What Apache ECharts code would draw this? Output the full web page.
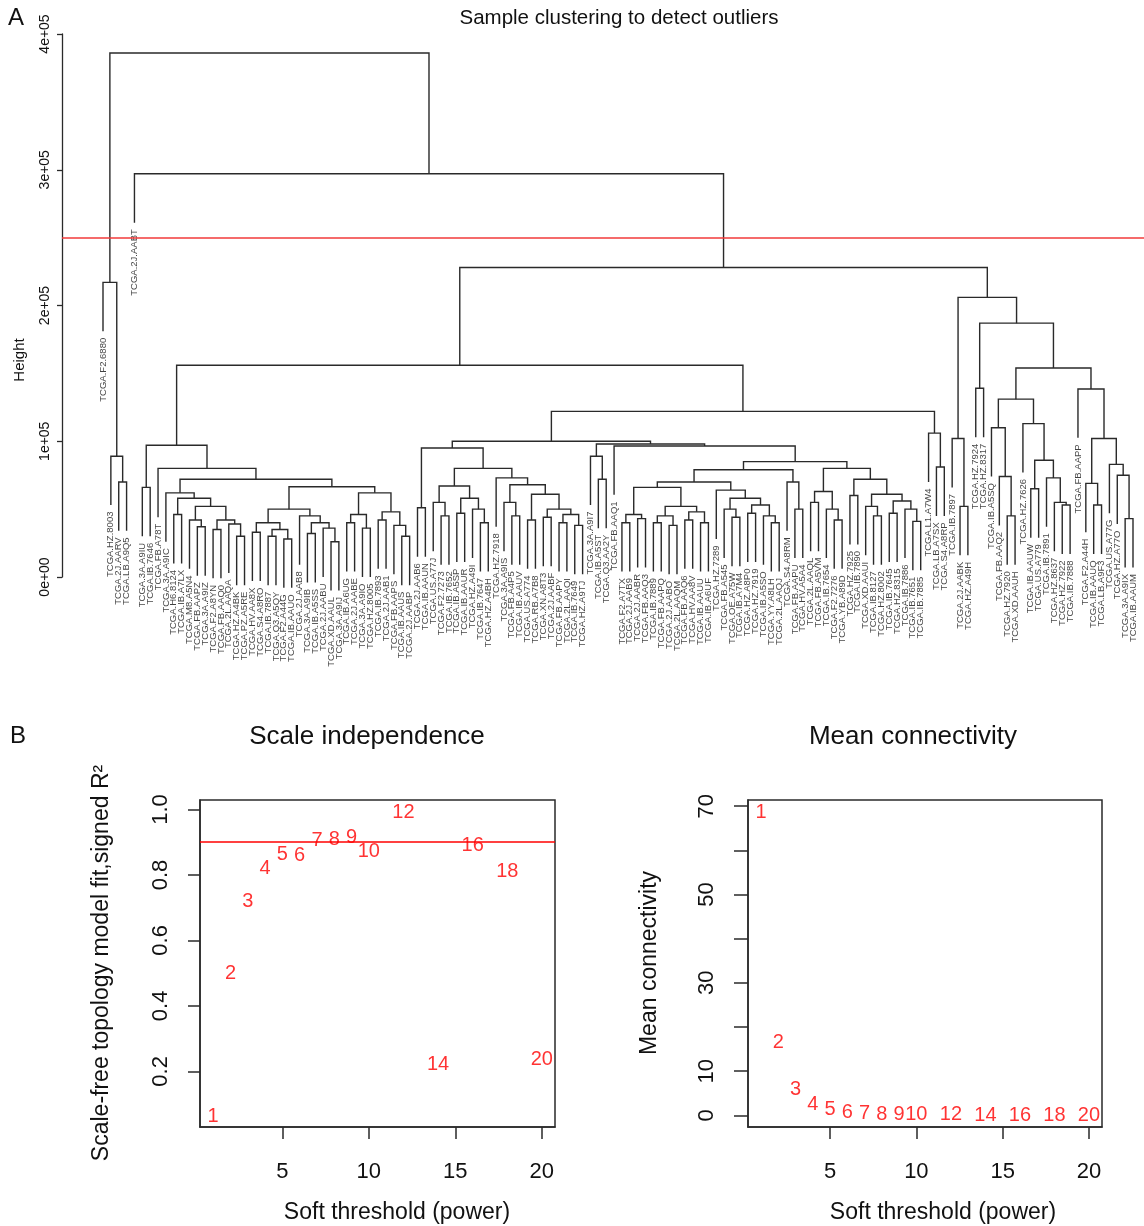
<!DOCTYPE html>
<html>
<head>
<meta charset="utf-8">
<script src="https://cdn.jsdelivr.net/npm/echarts@6.0.0/dist/echarts.min.js"></script>
<style>
  html, body { margin: 0; padding: 0; background: #fff; }
  #main { width: 1144px; height: 1226px; }
</style>
</head>
<body>
<div id="main"></div>
<script>
// ---- panel A: sample names in dendrogram order ----
var sampleNames = [
    'TCGA.F2.6880', 'TCGA.HZ.8003', 'TCGA.2J.AARV', 'TCGA.LB.A9Q5', 'TCGA.2J.AABT',
    'TCGA.3A.A9IU', 'TCGA.IB.7646', 'TCGA.FB.A78T', 'TCGA.3A.A9IC', 'TCGA.H6.8124',
    'TCGA.IB.A7LX', 'TCGA.M8.A5N4', 'TCGA.FB.AAPZ', 'TCGA.3A.A9IZ', 'TCGA.F2.A8YN',
    'TCGA.FB.AAQ0', 'TCGA.2L.AAQA', 'TCGA.HZ.A4BK', 'TCGA.PZ.A5RE', 'TCGA.HV.AA8X',
    'TCGA.S4.A8RO', 'TCGA.IB.7887', 'TCGA.Q3.A5QY', 'TCGA.F2.A44G', 'TCGA.IB.AAUO',
    'TCGA.2J.AAB8', 'TCGA.3A.A9IB', 'TCGA.IB.A5SS', 'TCGA.2J.AABU', 'TCGA.XD.AAUL',
    'TCGA.3A.A9IJ', 'TCGA.IB.A6UG', 'TCGA.2J.AABE', 'TCGA.3A.A9IO', 'TCGA.HZ.8005',
    'TCGA.IB.7893', 'TCGA.2J.AAB1', 'TCGA.FB.AAPS', 'TCGA.IB.AAUS', 'TCGA.2J.AABP',
    'TCGA.2J.AAB6', 'TCGA.IB.AAUN', 'TCGA.US.A77J', 'TCGA.F2.7273', 'TCGA.IB.7652',
    'TCGA.IB.A5SP', 'TCGA.IB.AAUR', 'TCGA.HZ.A49I', 'TCGA.IB.7647', 'TCGA.HZ.A4BH',
    'TCGA.HZ.7918', 'TCGA.3A.A9IS', 'TCGA.FB.A4P5', 'TCGA.IB.AAUV', 'TCGA.US.A774',
    'TCGA.RB.A7B8', 'TCGA.XN.A8T3', 'TCGA.2J.AABF', 'TCGA.FB.AAPY', 'TCGA.2L.AAQI',
    'TCGA.IB.7649', 'TCGA.HZ.A9TJ',
    'TCGA.3A.A9I7', 'TCGA.IB.A5ST', 'TCGA.Q3.AA2Y', 'TCGA.FB.AAQ1',
    'TCGA.F2.A7TX', 'TCGA.2J.AAB9', 'TCGA.2J.AABR', 'TCGA.FB.AAQ3', 'TCGA.IB.7889',
    'TCGA.FB.AAPQ', 'TCGA.2J.AABO', 'TCGA.2L.AAQM', 'TCGA.FB.AAQ6', 'TCGA.HV.AA8V',
    'TCGA.IB.AAUU', 'TCGA.IB.A6UF', 'TCGA.HZ.7289', 'TCGA.FB.A545', 'TCGA.OE.A75W',
    'TCGA.IB.A7M4', 'TCGA.HZ.A8P0', 'TCGA.HZ.7919', 'TCGA.IB.A5SO', 'TCGA.YY.A8LH',
    'TCGA.2L.AAQJ', 'TCGA.S4.A8RM', 'TCGA.FB.AAPU', 'TCGA.HV.A5A4',
    'TCGA.2L.AAQL', 'TCGA.FB.A5VM', 'TCGA.IB.7654', 'TCGA.F2.7276', 'TCGA.YB.A89D',
    'TCGA.HZ.7925', 'TCGA.IB.7890', 'TCGA.XD.AAUI', 'TCGA.IB.8127', 'TCGA.HZ.8002',
    'TCGA.IB.7645', 'TCGA.HZ.8315', 'TCGA.IB.7886', 'TCGA.IB.7651', 'TCGA.IB.7885',
    'TCGA.L1.A7W4', 'TCGA.LB.A7SX', 'TCGA.S4.A8RP',
    'TCGA.IB.7897', 'TCGA.2J.AABK', 'TCGA.HZ.A49H', 'TCGA.HZ.7924', 'TCGA.HZ.8317',
    'TCGA.IB.A5SQ', 'TCGA.FB.AAQ2', 'TCGA.HZ.7920', 'TCGA.XD.AAUH', 'TCGA.HZ.7626',
    'TCGA.IB.AAUW', 'TCGA.US.A779', 'TCGA.IB.7891', 'TCGA.HZ.8637', 'TCGA.HZ.7922',
    'TCGA.IB.7888', 'TCGA.FB.AAPP', 'TCGA.F2.A44H', 'TCGA.IB.AAUQ', 'TCGA.LB.A9F3',
    'TCGA.US.A77G', 'TCGA.HZ.A77O', 'TCGA.3A.A9IX', 'TCGA.IB.AAUM'
];

// merge tree: [height (x1000), left, right]; a plain number is a leaf (index into sampleNames, 1-based)
var sampleTree =
[386,
  [217, 1, [89, 2, [70, 3, 4]]],
  [297, 5,
    [228,
      [156,
        [97,
          [66, 6, 7],
          [80, 8,
            [72,
              [62, 9, [58, [46, 10, 11], [52, [42, 12, [37, 13, 14]], [42, [35, 15, 16], [39, 17, [30, 18, 19]]]]]],
              [66.5,
                [50, [40, [33, 20, 21], [35, [30, 22, 23], [28, 24, 25]]], [45, 26, [40, [32, 27, 28], [36, 29, [26, 30, 31]]]]],
                [62, [46, [40, 32, 33], [36, 34, 35]], [48, [42, 36, 37], [38, 38, [30, 39, 40]]]]]]]],
        [122,
          [100,
            [95, [51, 41, 42],
              [80,
                [67, [55, 43, [45, 44, 45]], [58, [47, 46, 47], [50, 48, [40, 49, 50]]]],
                [73, 51, [68, [55, 52, [45, 53, 54]], [61, [42, 55, 56], [50, [44, 57, 58], [46, [40, 59, 60], [38, 61, 62]]]]]]]],
            [98, [89, 63, [72, 64, 65]],
              [96.5, 66,
                [85,
                  [79,
                    [70,
                      [66, [46, [40, 67, 68], [43, 69, 70]], [52, [45, [40, 71, 72], [38, 73, 74]], [48, [42, 75, 76], [40, 77, 78]]]],
                      [64, 79, [58, [50, 80, [44, 81, 82]], [53, [47, 83, 84], [45, 85, [40, 86, 87]]]]]],
                    [70, 88, [50, 89, 90]]],
                  [80,
                    [63, [55, 91, 92], [50, 93, [42, 94, 95]]],
                    [72, [60, 96, 97], [61, [52, 98, [45, 99, 100]], [56, [47, 101, 102], [50, 103, [41, 104, 105]]]]]]]]]],
          [106, 106, [81, 107, 108]]]],
      [206,
        [102, 109, [52, 110, 111]],
        [187, [139, 112, 113],
          [154,
            [131, [110, 114, [74, 115, [45, 116, 117]]], [113, 118, [86, [65, 119, 120], [73, 121, [55, 122, [53, 123, 124]]]]]],
            [138.5, 125, [102, [69, 126, [53, 127, 128]], [83, 129, [75, 130, [43, 131, 132]]]]]]]]]]];

var cutHeight = 250000;

// ---- panel B ----
var powers = [1, 2, 3, 4, 5, 6, 7, 8, 9, 10, 12, 14, 16, 18, 20];
var signedR2 = [0.063, 0.50, 0.718, 0.82, 0.864, 0.861, 0.906, 0.909, 0.915, 0.871, 0.991, 0.220, 0.891, 0.81, 0.236];
var meanK = [68.5, 16.5, 5.8, 2.4, 1.4, 0.7, 0.5, 0.3, 0.2, 0.15, 0.1, 0.08, 0.06, 0.05, 0.05];
var r2Cut = 0.90;
var powerTicks = [5, 10, 15, 20];
var r2Ticks = [0.2, 0.4, 0.6, 0.8, 1.0];
var kTicks = [0, 10, 20, 30, 40, 50, 60, 70];
var kLabels = [0, 10, 30, 50, 70];

// ---- build dendrogram segments ----
var allH = [];
(function collect(n) {
    if (typeof n === 'number') return;
    allH.push(n[0] * 1000);
    collect(n[1]);
    collect(n[2]);
})(sampleTree);
var hang = 0.1 * (Math.max.apply(null, allH) - Math.min.apply(null, allH));

var links = [], leafData = [], leafCount = 0;
function place(node, parentH) {
    if (typeof node === 'number') {
        leafCount++;
        var bottom = parentH - hang;
        leafData.push({ name: sampleNames[node - 1], value: [leafCount, bottom] });
        return { x: leafCount, y: bottom };
    }
    var h = node[0] * 1000;
    var a = place(node[1], h), b = place(node[2], h);
    links.push([a.x, a.y, b.x, b.y, h]);
    return { x: (a.x + b.x) / 2, y: h };
}
place(sampleTree, 0);

var N = leafCount;
var step = (1133 - 103) / (N - 1);
var xMinA = 1 - (103 - 62) / step;
var xMaxA = N + (1144 - 1133) / step;

var RED = '#ff0000';
var INK = '#2a2a2a';
var FONT = 'Liberation Sans, Arial, Helvetica, sans-serif';

function sci(v) {
    return v.toExponential(0).replace(/e([+-])(\d)$/, 'e$10$2');
}

function boxX(grid) {
    return {
        gridIndex: grid, type: 'value', min: 0.24, max: 20.76,
        splitLine: { show: false },
        axisLine: { show: true, onZero: false, lineStyle: { color: INK, width: 1.5 } },
        axisTick: { show: true, customValues: powerTicks, length: 12, lineStyle: { color: INK, width: 1.5 } },
        axisLabel: { customValues: powerTicks, fontSize: 22, color: '#111', margin: 34, fontFamily: FONT }
    };
}

var myChart = echarts.init(document.getElementById('main'));
var option = {
    animation: false,
    backgroundColor: '#fff',
    textStyle: { fontFamily: FONT },
    grid: [
        { left: 62, top: 34, width: 1082, height: 543 },
        { left: 200, top: 800, width: 355, height: 327, show: true, borderColor: INK, borderWidth: 1.5, backgroundColor: 'transparent' },
        { left: 748, top: 800, width: 354, height: 327, show: true, borderColor: INK, borderWidth: 1.5, backgroundColor: 'transparent' }
    ],
    xAxis: [
        { gridIndex: 0, type: 'value', min: xMinA, max: xMaxA, show: false },
        boxX(1),
        boxX(2)
    ],
    yAxis: [
        {
            gridIndex: 0, type: 'value', min: 0, max: 400000, interval: 100000,
            splitLine: { show: false },
            axisLine: { show: true, onZero: false, lineStyle: { color: INK, width: 1.3 } },
            axisTick: { length: 5, lineStyle: { color: INK, width: 1.3 } },
            axisLabel: { rotate: 90, fontSize: 14, color: '#111', margin: 10, formatter: sci }
        },
        {
            gridIndex: 1, type: 'value', min: 0.030, max: 1.029,
            splitLine: { show: false },
            axisLine: { show: true, onZero: false, lineStyle: { color: INK, width: 1.5 } },
            axisTick: { customValues: r2Ticks, length: 12, lineStyle: { color: INK, width: 1.5 } },
            axisLabel: { customValues: r2Ticks, rotate: 90, fontSize: 22, color: '#111', margin: 28,
                formatter: function(v) { return v.toFixed(1); } }
        },
        {
            gridIndex: 2, type: 'value', min: -2.64, max: 71.4,
            splitLine: { show: false },
            axisLine: { show: true, onZero: false, lineStyle: { color: INK, width: 1.5 } },
            axisTick: { customValues: kTicks, length: 14, lineStyle: { color: INK, width: 1.5 } },
            axisLabel: { customValues: kLabels, rotate: 90, fontSize: 22, color: '#111', margin: 30 }
        }
    ],
    series: [
        {
            type: 'custom',
            xAxisIndex: 0, yAxisIndex: 0,
            silent: true,
            data: links,
            encode: { x: [0, 2], y: [1, 3, 4] },
            renderItem: function(params, api) {
                var p1 = api.coord([api.value(0), api.value(1)]);
                var p2 = api.coord([api.value(0), api.value(4)]);
                var p3 = api.coord([api.value(2), api.value(4)]);
                var p4 = api.coord([api.value(2), api.value(3)]);
                return {
                    type: 'polyline',
                    shape: { points: [p1, p2, p3, p4] },
                    style: { stroke: INK, lineWidth: 1.4, fill: 'none' }
                };
            }
        },
        {
            type: 'scatter',
            xAxisIndex: 0, yAxisIndex: 0,
            silent: true, clip: false,
            symbolSize: 1,
            itemStyle: { color: 'rgba(0,0,0,0)' },
            data: leafData,
            label: {
                show: true, formatter: '{b}', position: 'bottom', distance: 6,
                rotate: 90, align: 'right', verticalAlign: 'middle',
                fontSize: 9.5, color: '#111'
            },
            markLine: {
                silent: true, symbol: ['none', 'none'],
                label: { show: false },
                lineStyle: { color: '#f23a3a', width: 1.5, type: 'solid' },
                data: [{ yAxis: cutHeight }]
            }
        },
        {
            type: 'scatter',
            xAxisIndex: 1, yAxisIndex: 1,
            silent: true, clip: false,
            symbolSize: 1,
            itemStyle: { color: 'rgba(0,0,0,0)' },
            data: powers.map(function(p, i) { return [p, signedR2[i]]; }),
            label: { show: true, position: 'inside', color: RED, fontSize: 20,
                formatter: function(p) { return p.value[0]; } },
            markLine: {
                silent: true, symbol: ['none', 'none'],
                label: { show: false },
                lineStyle: { color: RED, width: 1.5, type: 'solid' },
                data: [{ yAxis: r2Cut }]
            }
        },
        {
            type: 'scatter',
            xAxisIndex: 2, yAxisIndex: 2,
            silent: true, clip: false,
            symbolSize: 1,
            itemStyle: { color: 'rgba(0,0,0,0)' },
            data: powers.map(function(p, i) { return [p, meanK[i]]; }),
            label: { show: true, position: 'inside', color: RED, fontSize: 20,
                formatter: function(p) { return p.value[0]; } }
        }
    ],
    graphic: [
        { type: 'text', x: 8, y: 18, style: { text: 'A', font: '24px ' + FONT, fill: '#111', textAlign: 'left', textVerticalAlign: 'middle' } },
        { type: 'text', x: 619, y: 18, style: { text: 'Sample clustering to detect outliers', font: '20.5px ' + FONT, fill: '#111', textAlign: 'center', textVerticalAlign: 'middle' } },
        { type: 'text', x: 20, y: 360, rotation: Math.PI / 2, style: { text: 'Height', font: '15px ' + FONT, fill: '#111', textAlign: 'center', textVerticalAlign: 'middle' } },
        { type: 'text', x: 10, y: 736, style: { text: 'B', font: '24px ' + FONT, fill: '#111', textAlign: 'left', textVerticalAlign: 'middle' } },
        { type: 'text', x: 367, y: 737, style: { text: 'Scale independence', font: '26px ' + FONT, fill: '#111', textAlign: 'center', textVerticalAlign: 'middle' } },
        { type: 'text', x: 913, y: 737, style: { text: 'Mean connectivity', font: '26px ' + FONT, fill: '#111', textAlign: 'center', textVerticalAlign: 'middle' } },
        { type: 'text', x: 102, y: 963, rotation: Math.PI / 2, style: { text: 'Scale-free topology model fit,signed R\u00b2', font: '23px ' + FONT, fill: '#111', textAlign: 'center', textVerticalAlign: 'middle' } },
        { type: 'text', x: 650, y: 963, rotation: Math.PI / 2, style: { text: 'Mean connectivity', font: '23px ' + FONT, fill: '#111', textAlign: 'center', textVerticalAlign: 'middle' } },
        { type: 'text', x: 397, y: 1213, style: { text: 'Soft threshold (power)', font: '23px ' + FONT, fill: '#111', textAlign: 'center', textVerticalAlign: 'middle' } },
        { type: 'text', x: 943, y: 1213, style: { text: 'Soft threshold (power)', font: '23px ' + FONT, fill: '#111', textAlign: 'center', textVerticalAlign: 'middle' } }
    ]
};
myChart.setOption(option);
</script>
</body>
</html>
